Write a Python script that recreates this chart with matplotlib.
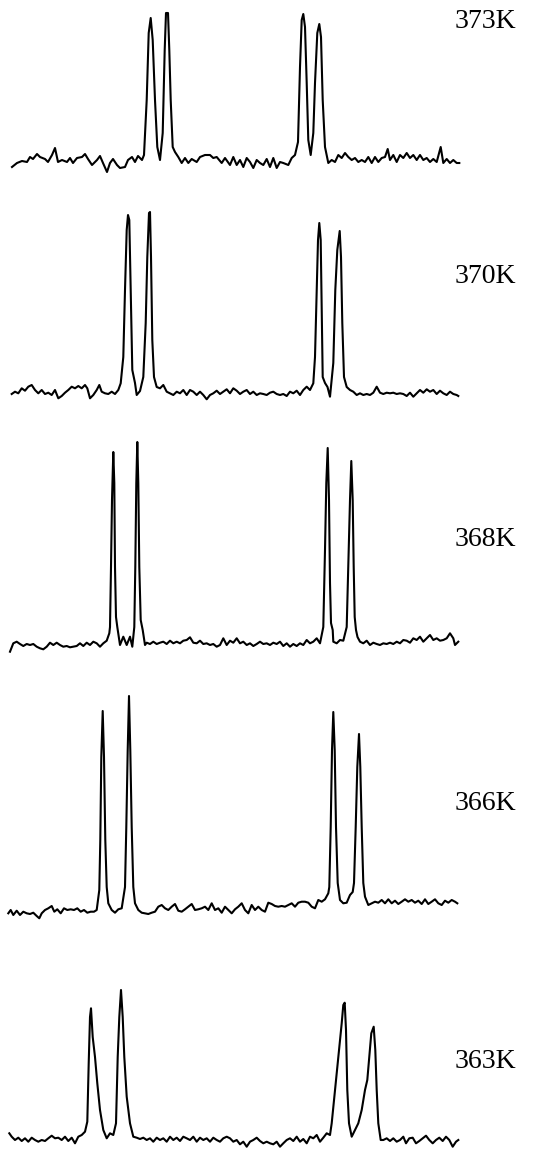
import numpy as np
import matplotlib
matplotlib.use("Agg")
import matplotlib.pyplot as plt

# ---------------- data (position, intensity) ----------------
temps = ["373K", "370K", "368K", "366K", "363K"]

x_373 = [12,17,22,27,30,33,37,40,45,48,52,55,58,62,67,70,73,77,82,85,88,92,97,100,103,107,110,113,117,120,125,128,132,135,138,142,
         144,146.7,148.7,150.7,152.7,155,157.3,160,162.7,164.7,166,168,169.3,170.7,172.7,175,178.3,181.7,185,188.3,191.7,196.7,200,
         205,210,213.3,216.7,221.7,225,230,233.3,236.7,240,243.3,246.7,250,253.3,256.7,260,263.3,266.7,270,273.3,276.7,280,283.3,
         288.3,291.7,295,298,300,301.7,303.3,305,306.7,308.3,310.7,313.3,315,317.3,319.3,321,322.7,325,328.3,331.7,335,338.3,341.7,
         345,348.3,351.7,355,358.3,361.7,365,368.3,371.7,375,378.3,381.7,385,387.7,390,393.3,396.7,400,403.3,406.7,410,413.3,416.7,
         420,423.3,426.7,430,433.3,436.7,440.7,443.3,446.7,450,453.3,456.7,459.3]
i_373 = [-5,-1,1,0,5,3,8,5,3,0,7,14,0,2,0,4,-1,4,5,8,3,-3,2,6,-1,-10,-1,3,-3,-6,-5,2,5,0,6,2,
         7,62,129,144,122,62,15,2,29,112,149,149,112,62,15,10,5,-1,4,-1,3,0,5,
         7,7,4,5,-1,4,-3,5,-3,2,-5,4,0,-6,2,-1,-3,3,-5,4,-6,0,-1,
         -3,4,7,20,95,142,148,135,79,22,7,29,79,129,138,125,62,15,-1,2,0,7,4,
         9,5,2,4,0,2,0,5,-1,5,0,4,5,13,2,7,0,7,4,9,4,7,2,
         7,2,4,0,3,0,15,-1,3,-1,2,-1,-1]

x_370 = [11.7,15,18.3,21.7,25,28.3,31.7,35,38.3,41.7,45,48.3,51.7,55,58.3,61.7,65,68.3,71.7,75,78.3,81.7,85,87.3,90,93.3,96.7,
         99.3,101.7,105,108.3,111.7,115,118.3,120.7,123.3,125,126.7,128,129.3,130.7,132.3,135,136.7,140,143.3,145.7,147.3,149,150,
         151,152.3,154,156.7,160,163.3,166.7,170,173.3,176.7,180,183.3,186.7,190,193.3,196.7,200,203.3,206.7,210,213.3,216.7,220,
         223.3,226.7,230,233.3,236.7,240,243.3,246.7,250,253.3,256.7,260,263.3,266.7,270,273.3,276.7,280,283.3,286.7,290,293.3,
         296.7,300,303.3,306.7,310,313.3,315,316.7,318,319.3,320.7,321.7,322.7,325,327.5,330,333.3,335.3,337.3,339.7,341,342.3,344,
         346.7,350,353.3,356.7,360,363.3,366.7,370,373.3,376.7,380,383.3,386.7,390,393.3,396.7,400,403.3,406.7,410,413.3,416.7,
         420,423.3,426.7,430,433.3,436.7,440,443.3,446.7,450,453.3,456.7,458.3]
i_370 = [-1,1.3,-0.3,4.7,2.3,6.3,8,3,-0.3,3,-1,0.3,-2,3,-5.3,-3,0.3,3,6.3,4.7,7,4.7,8,4.7,-5.3,-2,3,
         8,1.3,-0.3,-1,1.3,-1,3,9.7,36,103,163,178,173,103,23,10,-2,2,16,70,136,180,181,
         136,53,16,6,4.7,8,1.3,-0.3,-2,1.3,-0.3,3,-2,3,1.3,-2,1.3,-2,-6.3,-2,-0.3,2.3,-1,
         1.3,3.7,-0.3,4.7,2.3,-1,1.3,3,-1,1.3,-2,-0.3,-1,-2,0.3,1.3,-1,-2,-1,-3,1.3,-0.3,
         2.3,-2,3,6.3,3,9.7,36,103,153,170,153,86,16,10,6,-3.7,30,103,143,162,136,70,16,
         6,3,1.3,-2,-0.3,-2,-1,-2,0.3,6.3,0.3,-1,0.3,-0.3,0.3,-1,-0.3,-1,-3,0.3,-3.7,-0.3,
         3,0.3,3.7,1.3,3,-1,2.3,-0.3,-2,1.3,-1,-2,-3]

x_368 = [10,13.3,16.7,20,23.3,26.7,30,33.3,36.7,40,43.3,46.7,50,53.3,56.7,60,63.3,66.7,70,73.3,76.7,80,83.3,86.7,90,93.3,96.7,
         100,103.3,106.7,109.3,110,111,112,113.3,114.3,115,116,117.3,120,123.3,126.7,130,132.3,134.3,135.3,136.3,137.3,138.3,139.3,
         140.7,142.7,145,146.7,150,153.3,156.7,160,163.3,166.7,170,173.3,176.7,180,183.3,186.7,190,193.3,196.7,200,203.3,206.7,
         210,213.3,216.7,220,223.3,226.7,230,233.3,236.7,240,243.3,246.7,250,253.3,256.7,260,263.3,266.7,270,273.3,276.7,280,
         283.3,286.7,290,293.3,296.7,300,303.3,306.7,310,313.3,316.7,320,321.7,323.3,325,326.3,327.7,329,330,331,332.7,333.3,
         336.7,340,343.3,346.7,348.3,350,351.3,352.7,353.7,354.7,356,357.5,360,363.3,366.7,370,373.3,376.7,380,383.3,386.7,390,
         393.3,396.7,400,403.3,406.7,410,413.3,416.7,420,423.3,426.7,430,433.3,436.7,440,443.3,446.7,450,453.3,455,458.3]
i_368 = [-6.7,1.7,3.3,1,-1,1,0,1,-1.7,-3.3,-4.3,-1.7,2.3,0,2.3,0,-1.7,-1,-2.3,-1.7,-1,1.7,-1,2.3,0,3.3,1.7,
         -1.7,1.7,4.3,11.7,18,78,145,193,162,78,28,18,0,8.3,0,8.3,-1.7,18,78,162,203,162,78,
         25,15,0,2.3,1,3.3,1,2.3,3.3,1,4.3,1.7,3.3,1.7,4.3,5,7.7,2.3,1.7,4.3,1,1.7,
         0,1,-1.7,0,6.7,0,4.3,2.3,6.7,1.7,3.3,0,1.7,-1,1,3.3,1,1.7,0,2.3,1,3.3,
         -1,1.7,-1.7,1,-1,1.7,0,5,1.7,3.3,6.7,1.7,10,18,95,162,197,145,62,22,15,3.3,
         1.7,5,4.3,18,78,145,184,145,78,28,15,8,3.3,1.7,4.3,0,2.3,1,0,1.7,1,2.3,
         1,3.3,1.7,5,4.3,2.3,6.7,5,8.3,3.3,6.7,10,5,6.7,4.3,5,6.7,11.7,6.7,0,3.3]

x_366 = [8.3,10.7,13.3,16.7,20,23.3,26.7,30,33.3,36.7,39.3,41.7,45,48.3,51.7,54.3,57.3,60.7,64,67.3,70.7,74,77.3,80.7,84,87.3,
         90.7,94,96.7,99.3,100.3,101.3,102.7,104,105.3,106.7,108.3,111.7,115,118.3,121.7,124,125,126.3,127.7,129,130.3,131.7,133.3,
         135,138.3,141.7,145,148.3,151.7,155,158.3,161.7,165,168.3,171.7,175,178.3,181.7,185,188.3,191.7,195,198.3,201.7,205,208.3,
         211.7,215,218.3,221.7,225,228.3,231.7,235,238.3,241.7,245,248.3,251.7,255,258.3,261.7,265,268.3,271.7,275,278.3,281.7,
         285,288.3,291.7,295,298.3,301.7,305,308.3,311.7,315,318.3,321.7,325,328.3,329.3,330.7,332,333.3,334.7,336,337.7,340,
         343.3,346.7,350,352.7,354,355.7,357.3,359,360.3,361.7,363.3,365,368.3,371.7,375,378.3,381.7,385,388.3,391.7,395,398.3,
         401.7,405,408.3,411.7,415,418.3,421.7,425,428.3,431.7,435,438.3,441.7,445,448.3,451.7,455,457.3]
i_366 = [-1.3,2,-3,1.3,-3,0.3,-1.3,-2,-0.7,-4,-6.3,-1.3,2,3.7,6,0.3,2.7,-1.3,3.7,2,2.7,2,3.7,0.3,2,-0.7,
         0.3,0.3,2,22,72,155,201,155,72,25,8.7,2,-0.7,2.7,3.7,18.7,25,85,162,216,162,85,25,
         8.7,2,-0.7,-1.3,-2,-0.7,0.3,5.3,7,3.7,2,5.3,8,1.3,0.3,2.7,5.3,8,2,2.7,3.7,5.3,2,
         8.7,2,3.7,-0.7,5.3,2,-1.3,2.7,5.3,8.7,2,-1.3,7,2,5.3,2,0.3,9.3,8,6,5.3,6,
         5.3,7,8.7,5.3,9.3,10.3,10.3,9.3,5.3,3.7,12,10.3,12.7,18.7,25,85,162,200,162,85,29,12,
         8.7,9.3,17,20,29,85,145,178,145,85,29,15.3,7,8.7,10.3,9.3,12,8.7,12.7,8.7,11.3,8,
         10.3,12.7,10.3,12,9.3,11.3,8,12.7,8,10.3,12.7,8.7,7,11.3,9.3,12,10.3,8.7]

x_363 = [9.3,11.7,15,18.3,21.7,25,28.3,31.7,35,38.3,41.7,45,48.3,51.7,55,58.3,61.7,65,68.3,71.7,75,78.3,81.7,85,87.3,88.7,90,
         91,92.7,95,97.3,100,103.3,106.7,110,113.3,116,117.7,119.3,121,122.7,124.3,126.7,130,133.3,136.7,140,143.3,146.7,150,
         153.3,156.7,160,163.3,166.7,170,173.3,176.7,180,183.3,186.7,190,193.3,196.7,200,203.3,206.7,210,213.3,216.7,220,223.3,
         226.7,230,233.3,236.7,240,243.3,246.7,250,253.3,256.7,260,263.3,266.7,270,273.3,276.7,280,283.3,286.7,290,293.3,296.7,
         300,303.3,306.7,310,313.3,316.7,320,323.3,326.7,330,331.7,335,338.3,341.7,343.3,344.7,346,347.3,349,351.7,355,358.3,
         361.7,365,367.3,369.3,371.3,373.7,375.3,376.7,378.3,380.7,383.3,386.7,390,393.3,396.7,400,403.3,406,409.3,412.7,416,
         419.3,422.7,426,429.3,432.7,436,439.3,442.7,446,449.3,452.7,456,458.3]
i_363 = [4.7,1.3,-2,0.3,-3,-0.3,-3.7,0.3,-2,-3.7,-2,-3,-0.3,2.3,-0.3,0.3,-2,1.3,-3,0.3,-5.3,1.3,3,6.3,16.3,74.7,121,
         129.7,101,81,54.7,28,8,-0.3,4.7,3,14.7,81,121,148,121,81,41.3,14.7,1.3,0.3,-1,0.3,-2,-0.3,
         -3.7,0.3,-2,-0.3,-3.7,1.3,-2,0.3,-3,1.3,-0.3,-2,1.3,-3.7,0.3,-2,-0.3,-3.7,0.3,-2,-3.7,-0.3,
         1.3,-0.3,-3.7,-2,-6.3,-3.7,-8.7,-3.7,-2,0.3,-3,-5.3,-3.7,-5.3,-6.3,-3.7,-8.7,-5.3,-2,-0.3,-3,1.3,
         -3.7,-1,-5.3,1.3,-0.3,3,-3.7,0.3,4.7,3,14.7,48,81,114.7,133,135.3,108,48,14.7,1.3,8,14.7,
         28,48,58,81,104.7,111.3,88,48,14.7,-2,-2,-0.3,-3,-0.3,-3.7,-2,1.3,-5.3,-0.3,0.3,-5.3,
         -3,-0.3,2.3,-2,-5.3,-2,0.3,-3,1.3,-2,-8.7,-3.7,-2]

xs = [x_373, x_370, x_368, x_366, x_363]
ints = [i_373, i_370, i_368, i_366, i_363]

# ---------------- layout ----------------
W, H = 535, 1151
fig = plt.figure(figsize=(W / 100, H / 100), dpi=100)
ax = fig.add_axes([0, 0, 1, 1])
ax.set_xlim(0, W)
ax.set_ylim(H, 0)
ax.axis("off")

baselines = [162, 393, 645, 912, 1138]   # vertical stacking offsets of each trace
label_y = [21, 276, 539, 803, 1062]
label_x = 455

for x, inten, b, lab, ly in zip(xs, ints, baselines, temps, label_y):
    x = np.asarray(x, float)
    inten = np.asarray(inten, float)
    ax.plot(x, b - inten, color="black", lw=1.5, solid_joinstyle="round")
    ax.text(label_x, ly, lab, fontsize=20, family="Liberation Serif",
            va="center", ha="left", color="black")

fig.savefig("out.png", dpi=100, facecolor="white")
